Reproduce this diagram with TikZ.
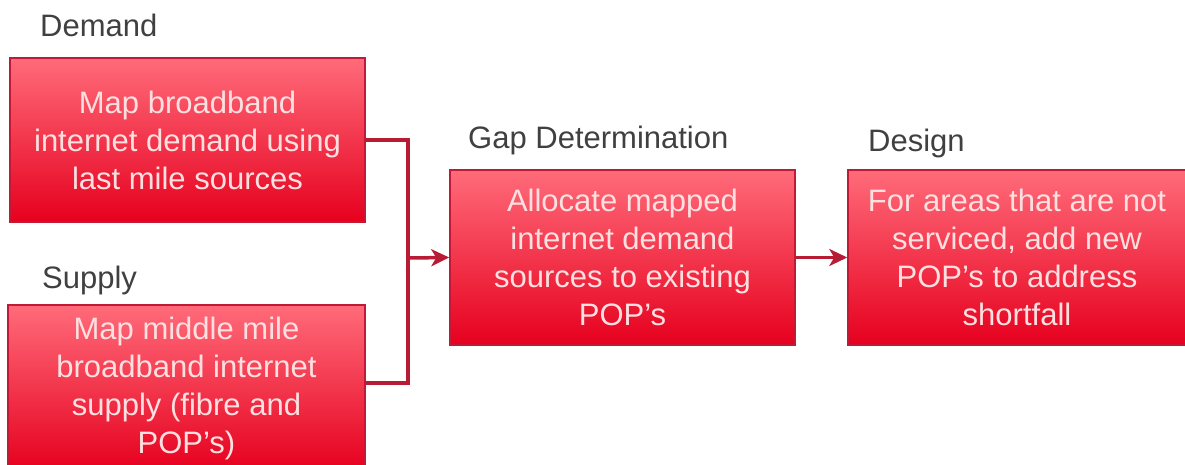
\documentclass[tikz,border=0pt]{standalone}
\usepackage{fontspec}
\setmainfont{Liberation Sans}
\usetikzlibrary{arrows.meta}

\definecolor{boxtop}{HTML}{FF6B7A}
\definecolor{boxbot}{HTML}{E6001E}
\definecolor{boxline}{HTML}{C01A36}
\definecolor{wirered}{HTML}{B81C34}
\definecolor{boxtext}{HTML}{FFE0E0}
\definecolor{lbltext}{HTML}{404040}

\tikzset{
  stagebox/.style={rectangle, draw=boxline, line width=1.5pt,
    top color=boxtop, bottom color=boxbot, text=boxtext,
    align=center, inner sep=0pt,
    font=\fontsize{31}{38}\selectfont},
  stagelbl/.style={anchor=west, text=lbltext, inner sep=0pt,
    font=\fontsize{31}{36}\selectfont},
  wire/.style={draw=wirered, line width=3.5pt},
  wirehead/.style={-{Stealth[length=18pt,width=17pt,inset=5pt]}},
}

\begin{document}
\begin{tikzpicture}[x=1pt,y=-1pt]
            \useasboundingbox (0,0) rectangle (1185,465);

            \node[stagelbl] (demandlbl) at (40,25) {Demand};
            \node[stagebox, minimum width=355pt, minimum height=164pt] (demand) at (187.5,140)
                {Map broadband\\internet demand using\\last mile sources};

            \node[stagelbl] (supplylbl) at (42,280) {Supply};
            \node[stagebox, minimum width=357pt, minimum height=166pt] (supply) at (186.5,388)
                {Map middle mile\\broadband internet\\supply (fibre and\\POP's)};

            \node[stagelbl] (gaplbl) at (468,140) {Gap Determination};
            \node[stagebox, minimum width=345pt, minimum height=175pt] (gap) at (622.5,257.5)
                {Allocate mapped\\internet demand\\sources to existing\\POP's};

            \node[stagelbl] (designlbl) at (868,143) {Design};
            \node[stagebox, minimum width=338pt, minimum height=175pt] (design) at (1017,257.5)
                {For areas that are not\\serviced, add new\\POP's to address\\shortfall};

            % join of the two inputs
            \coordinate (join) at (408,258);
            \draw[wire] (demand.east) -| (join);
            \draw[wire] (supply.east |- 0,383) -| (join);
            \draw[wire, wirehead] (join) -- (gap.west);

            \draw[wire, wirehead] (gap.east) -- (design.west);
\end{tikzpicture}
\end{document}
